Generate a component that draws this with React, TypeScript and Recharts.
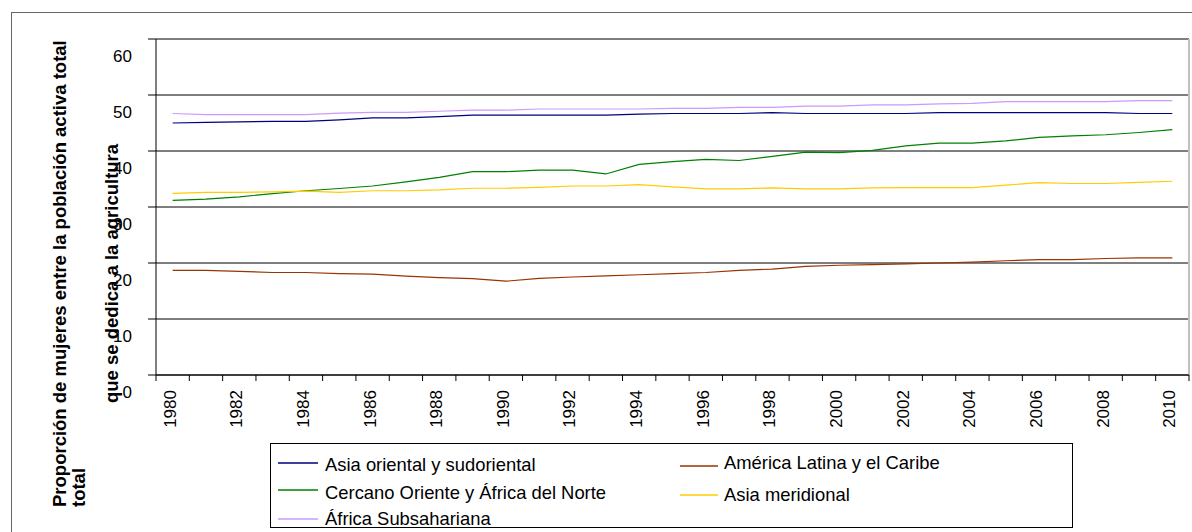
import React from 'react';
import { LineChart, Line, XAxis, YAxis, CartesianGrid, Legend } from 'recharts';

const years = [
  '1980', '1981', '1982', '1983', '1984', '1985', '1986', '1987', '1988', '1989',
  '1990', '1991', '1992', '1993', '1994', '1995', '1996', '1997', '1998', '1999',
  '2000', '2001', '2002', '2003', '2004', '2005', '2006', '2007', '2008', '2009', '2010',
];

const asiaOriental = [
  45.0, 45.1, 45.2, 45.3, 45.3, 45.55, 45.9, 45.9, 46.15, 46.4,
  46.4, 46.4, 46.4, 46.4, 46.6, 46.7, 46.7, 46.7, 46.85, 46.7,
  46.7, 46.7, 46.7, 46.85, 46.85, 46.85, 46.85, 46.85, 46.85, 46.7, 46.7,
];
const americaLatina = [
  18.7, 18.7, 18.5, 18.3, 18.3, 18.1, 18.0, 17.65, 17.4, 17.2,
  16.75, 17.25, 17.5, 17.7, 17.9, 18.1, 18.3, 18.7, 18.9, 19.4,
  19.6, 19.7, 19.85, 20.0, 20.15, 20.4, 20.6, 20.6, 20.8, 20.9, 20.9,
];
const cercanoOriente = [
  31.2, 31.4, 31.8, 32.4, 32.9, 33.3, 33.75, 34.5, 35.3, 36.3,
  36.3, 36.6, 36.6, 35.9, 37.6, 38.1, 38.5, 38.3, 39.05, 39.8,
  39.7, 40.1, 40.9, 41.4, 41.4, 41.8, 42.45, 42.7, 42.9, 43.3, 43.8,
];
const asiaMeridional = [
  32.45, 32.6, 32.6, 32.7, 32.85, 32.6, 32.9, 32.9, 33.05, 33.35,
  33.35, 33.5, 33.75, 33.75, 34.0, 33.6, 33.25, 33.25, 33.4, 33.25,
  33.25, 33.4, 33.45, 33.45, 33.45, 33.9, 34.35, 34.2, 34.2, 34.4, 34.6,
];
const africaSub = [
  46.7, 46.5, 46.5, 46.5, 46.5, 46.75, 46.9, 46.9, 47.1, 47.3,
  47.3, 47.5, 47.5, 47.5, 47.5, 47.6, 47.6, 47.8, 47.8, 48.0,
  48.0, 48.25, 48.25, 48.4, 48.5, 48.8, 48.8, 48.8, 48.8, 49.0, 49.0,
];

const yTicks = [0, 10, 20, 30, 40, 50, 60];

const seriesNames = [
  'Asia oriental y sudoriental',
  'América Latina y el Caribe',
  'Cercano Oriente y África del Norte',
  'Asia meridional',
  'África Subsahariana',
];
const seriesKeys = ['asiaOriental', 'americaLatina', 'cercanoOriente', 'asiaMeridional', 'africaSub'];
const seriesColors = ['#000080', '#993300', '#008000', '#FFCC00', '#CC99FF'];
const seriesValues = [asiaOriental, americaLatina, cercanoOriente, asiaMeridional, africaSub];

const yTitle1 = 'Proporción de mujeres entre la población activa total';
const yTitle2 = 'total';
const yTitle3 = 'que se dedica a la agricultura';

const data = years.map((year, i) => {
  const row: Record<string, string | number> = { year };
  seriesKeys.forEach((k, s) => {
    row[k] = seriesValues[s][i];
  });
  return row;
});

// legend layout (relative to legend box): [lineX1, lineX2, lineY, textX, textY]
const legendLayout = [
  [8, 48, 20, 55, 21],
  [410, 448, 23, 454, 19],
  [8, 48, 47, 55, 49],
  [410, 448, 52, 454, 51],
  [8, 48, 76, 55, 75],
];

const FONT = 'Liberation Sans, Arial, Helvetica, sans-serif';
const HALF_STEP = 16.67;

const XTick = (props: any) => {
  const { x, y, index, payload } = props;
  const ty = y + 15;
  return (
    <g>
      <line x1={x - HALF_STEP} x2={x - HALF_STEP} y1={y} y2={y + 6} stroke="#000" />
      {index === years.length - 1 && (
        <line x1={x + HALF_STEP} x2={x + HALF_STEP} y1={y} y2={y + 6} stroke="#000" />
      )}
      {index % 2 === 0 && (
        <text
          x={x - 3}
          y={ty}
          dy="0.35em"
          textAnchor="end"
          transform={`rotate(-90 ${x - 3} ${ty})`}
          fontSize={17}
          fontFamily={FONT}
          fill="#000"
        >
          {payload.value}
        </text>
      )}
    </g>
  );
};

const YTick = (props: any) => {
  const { x, y, payload } = props;
  return (
    <text x={x} y={y + 17} dy="0.355em" textAnchor="end" fontSize={17} fontFamily={FONT} fill="#000">
      {payload.value}
    </text>
  );
};

const YTitle = (props: any) => {
  const vb = props.viewBox || { x: 96, y: 39, width: 60, height: 336 };
  const bottom = vb.y + vb.height + 132;
  const l1x = vb.x - 30;
  const l2x = vb.x - 11;
  const l3x = vb.x + 22;
  const l3y = vb.y + vb.height + 28;
  const common = { fontSize: 18.5, fontWeight: 'bold' as const, fontFamily: FONT, fill: '#000', textAnchor: 'start' as const };
  return (
    <g>
      <text x={l1x} y={bottom} transform={`rotate(-90 ${l1x} ${bottom})`} {...common}>{yTitle1}</text>
      <text x={l2x} y={bottom} transform={`rotate(-90 ${l2x} ${bottom})`} {...common}>{yTitle2}</text>
      <text x={l3x} y={l3y} transform={`rotate(-90 ${l3x} ${l3y})`} {...common}>{yTitle3}</text>
    </g>
  );
};

const LegendBox = () => (
  <svg width={803} height={85} style={{ display: 'block' }}>
    <rect x={0.5} y={0.5} width={802} height={84} fill="#fff" stroke="#000" strokeWidth={1} />
    {seriesNames.map((name, i) => {
      const [lx1, lx2, ly, tx, ty] = legendLayout[i];
      return (
        <g key={name}>
          <line x1={lx1} x2={lx2} y1={ly} y2={ly} stroke={seriesColors[i]} strokeWidth={1.5} />
          <text x={tx} y={ty} dominantBaseline="central" fontSize={18.4} fontFamily={FONT} fill="#000">
            {name}
          </text>
        </g>
      );
    })}
  </svg>
);

export default function App() {
  return (
    <div style={{ position: 'absolute', left: 0, top: 0, width: 1192, height: 532, overflow: 'hidden', background: '#fff' }}>
      <div
        style={{
          position: 'absolute',
          left: 11,
          top: 12,
          width: 1400,
          height: 800,
          borderLeft: '1px solid #666',
          borderTop: '1px solid #666',
        }}
      />
      <div style={{ position: 'absolute', left: 0, top: 0 }}>
        <LineChart width={1192} height={532} data={data} margin={{ top: 39, right: 3, bottom: 97, left: 96 }}>
          <CartesianGrid vertical={false} stroke="#000" strokeWidth={1} />
          <CartesianGrid horizontal={false} verticalPoints={[1189]} stroke="#c0c0c0" strokeWidth={2} />
          <XAxis
            dataKey="year"
            interval={0}
            tickLine={false}
            tickSize={0}
            tickMargin={0}
            height={60}
            axisLine={{ stroke: '#000' }}
            padding={{ left: HALF_STEP, right: HALF_STEP }}
            tick={<XTick />}
          />
          <YAxis
            domain={[0, 60]}
            ticks={yTicks}
            width={60}
            tickSize={8}
            tickMargin={16}
            axisLine={{ stroke: '#000' }}
            tickLine={{ stroke: '#000' }}
            tick={<YTick />}
            label={{ content: <YTitle /> }}
          />
          <Legend
            layout="horizontal"
            verticalAlign="middle"
            align="center"
            wrapperStyle={{ left: 270, top: 443, width: 803, height: 85 }}
            content={<LegendBox />}
          />
          {seriesKeys.map((k, i) => (
            <Line
              key={k}
              type="linear"
              dataKey={k}
              name={seriesNames[i]}
              stroke={seriesColors[i]}
              strokeWidth={1.2}
              dot={false}
              activeDot={false}
              isAnimationActive={false}
            />
          ))}
        </LineChart>
      </div>
    </div>
  );
}
